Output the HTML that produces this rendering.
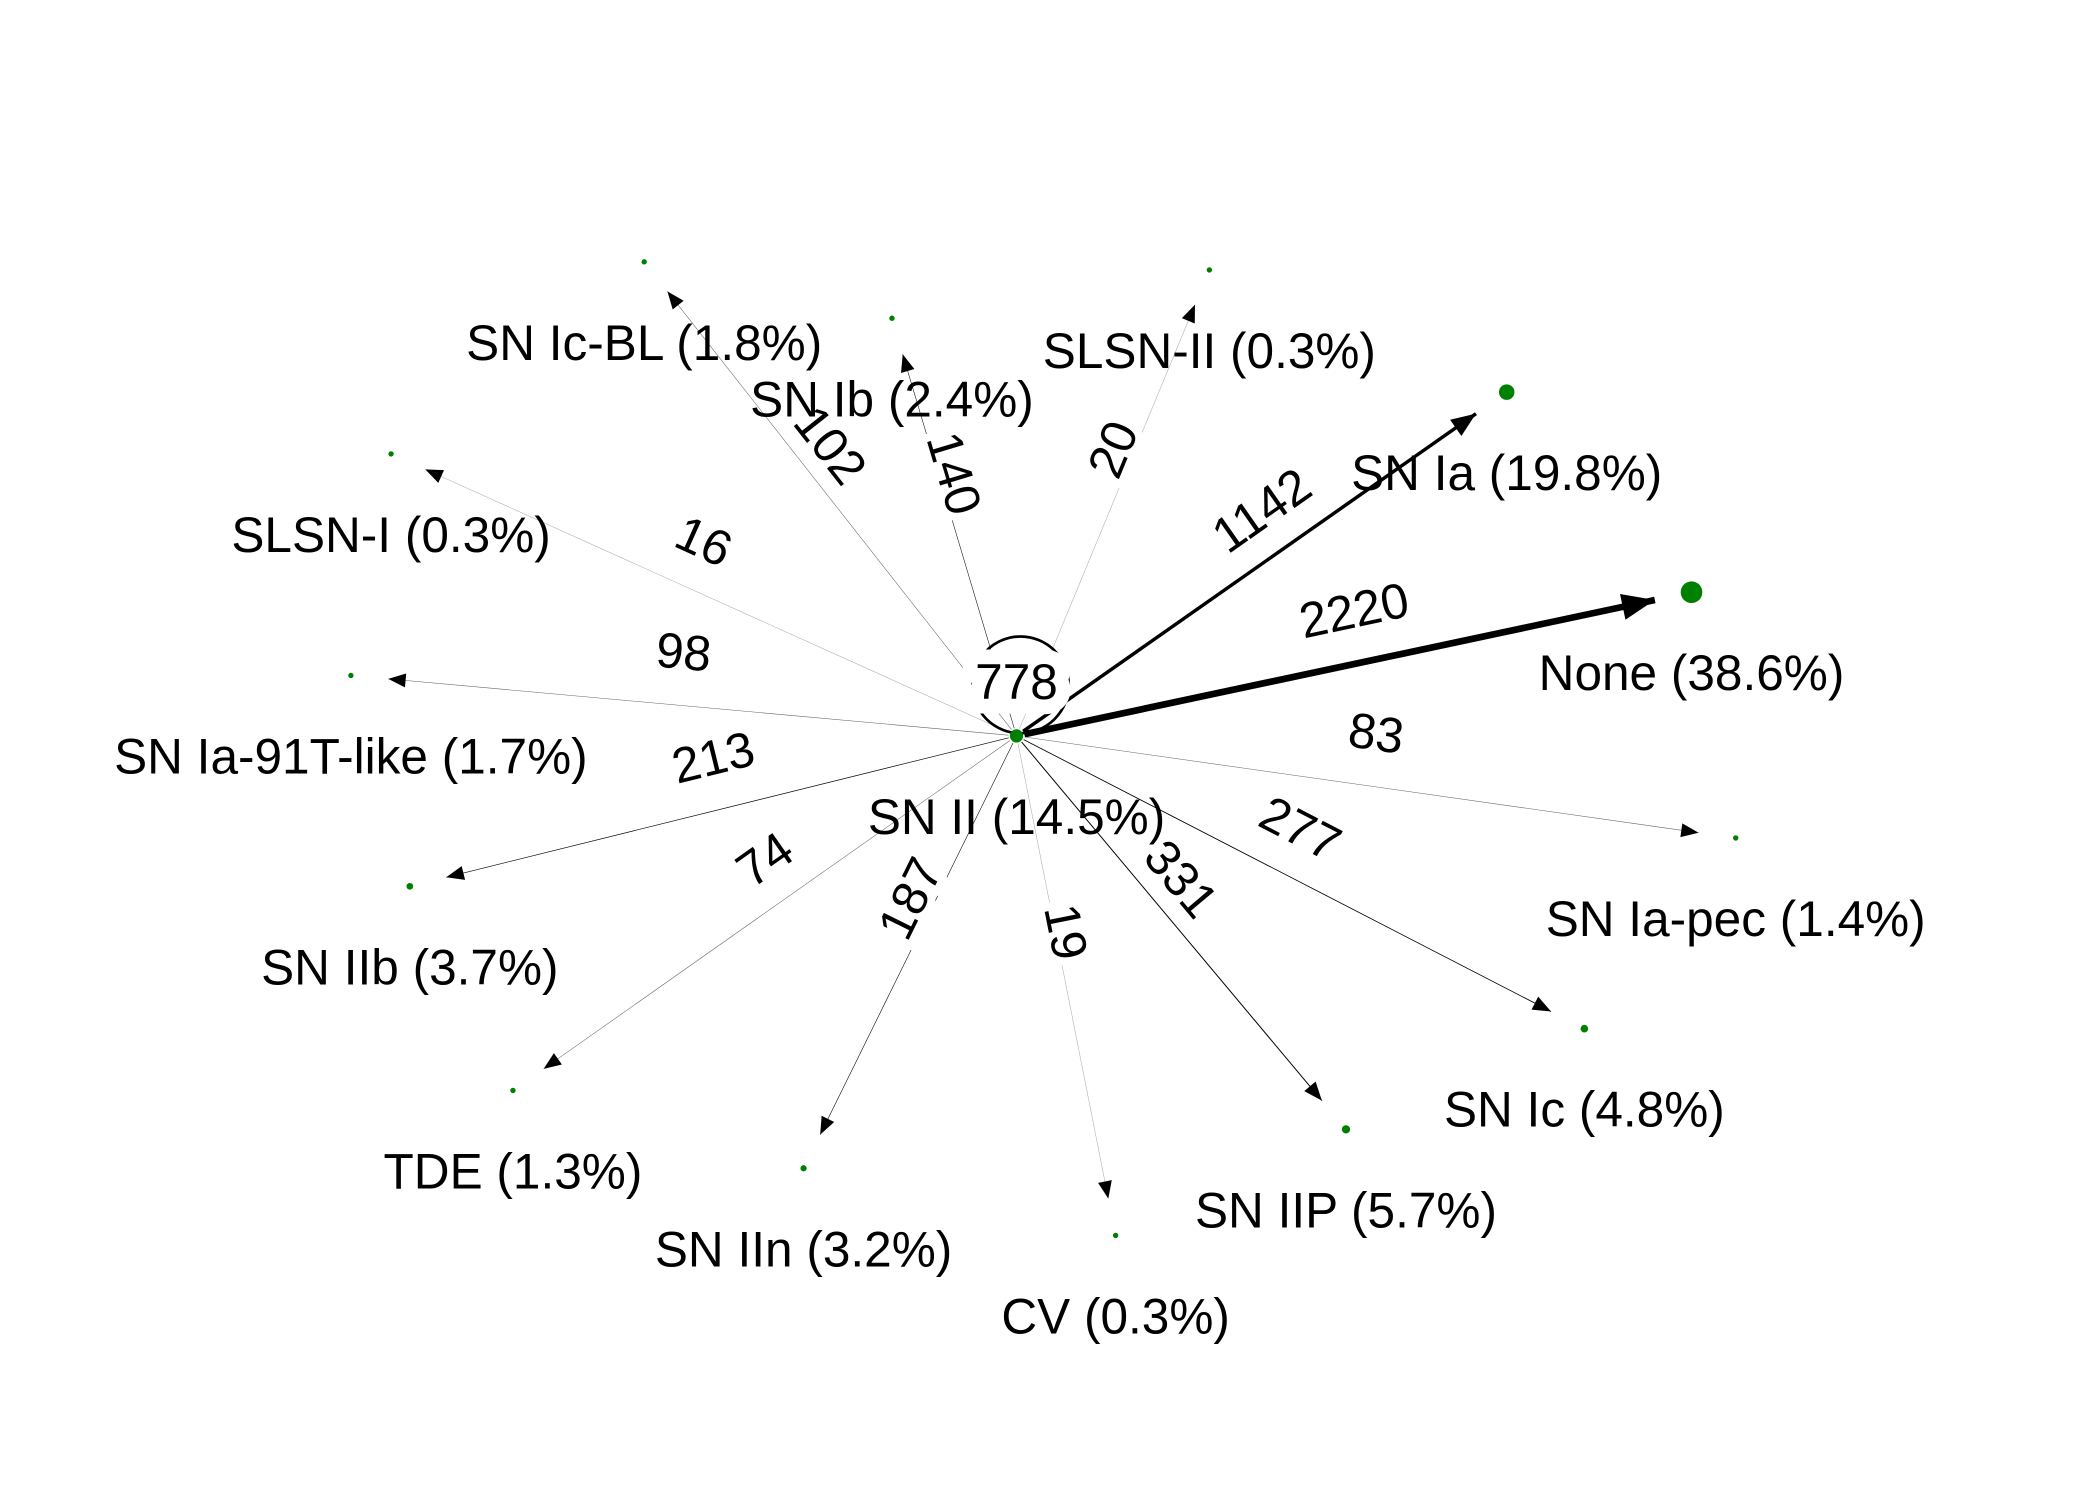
<!DOCTYPE html>
<html><head><meta charset="utf-8"><style>
html,body{margin:0;padding:0;background:#fff;}
svg{display:block;}
text{font-family:"Liberation Sans",sans-serif;}
</style></head><body>
<svg id="chart" width="2100" height="1500" viewBox="0 0 1568 1117" preserveAspectRatio="none" xmlns="http://www.w3.org/2000/svg">
<g id="edges"></g><g id="loop"></g><g id="elabels"></g><g id="nodes"></g>
</svg>
<script>
const sourceName = "SN II";
const sourcePct = 14.5;
const selfLoopCount = 778;
const targets = ["None","SN Ia","SN Ic-BL","SN Ib","SLSN-II","SLSN-I","SN Ia-91T-like","SN IIb","TDE","SN IIn","CV","SN IIP","SN Ic","SN Ia-pec"];
const counts = [2220,1142,102,140,20,16,98,213,74,187,19,331,277,83];
const percents = [38.6,19.8,1.8,2.4,0.3,0.3,1.7,3.7,1.3,3.2,0.3,5.7,4.8,1.4];
// layout (graph-drawing coordinates, not data)
const center = [759,548];
const layoutX = [1263,1125,481,666,903,292,262,306,383,600,833,1005,1183,1296];
const layoutY = [441,292,195,237,201,338,503,660,812,870,920,841,766,624];

const NS="http://www.w3.org/2000/svg";
const gE=document.getElementById('edges'),gN=document.getElementById('nodes'),gL=document.getElementById('elabels'),gLoop=document.getElementById('loop');
const maxC=Math.max(...counts);
const FS=37;
function mk(t,a,p){const e=document.createElementNS(NS,t);for(const k in a)e.setAttribute(k,a[k]);p.appendChild(e);return e;}
function nodeR(p){return Math.max(2,1.3*Math.sqrt(p));}
function addNode(x,y,name,pct){
  const c=mk('circle',{cx:x,cy:y,r:nodeR(pct),fill:'#008000'},gN);
  
  
  const t=mk('text',{x:x,y:y+73,'font-size':FS,'text-anchor':'middle',fill:'#000'},gN);
  t.textContent=name+' ('+pct.toFixed(1)+'%)';
  
  
}
targets.forEach((n,i)=>{
  const x=layoutX[i],y=layoutY[i];
  const dx=x-center[0],dy=y-center[1],L=Math.hypot(dx,dy);
  const ux=dx/L,uy=dy/L;
  const w=Math.max(0.4,counts[i]/maxC*5);
  const sx=center[0]+ux*6,sy=center[1]+uy*6;
  const ex=x-ux*28,ey=y-uy*28;
  const gray=counts[i]<50?'#aaa':(counts[i]<120?'#666':'#000');
  const ln=mk('line',{x1:sx,y1:sy,x2:ex,y2:ey,stroke:gray,'stroke-width':w},gE);
  
  
  const hs=12+w*2.5;
  const bx=ex-ux*hs,by=ey-uy*hs,px=-uy*hs*0.4,py=ux*hs*0.4;
  const ah=mk('polygon',{points:`${ex},${ey} ${bx+px},${by+py} ${bx-px},${by-py}`,fill:'#000'},gE);
  
  
  let ang=Math.atan2(dy,dx)*180/Math.PI;
  if(ang>90)ang-=180; if(ang<-90)ang+=180;
  const lx=(center[0]+x)/2,ly=(center[1]+y)/2-40;
  const t=mk('text',{x:lx,y:ly,'font-size':FS,'text-anchor':'middle','dominant-baseline':'central',fill:'#000',stroke:'#fff','stroke-width':12,'paint-order':'stroke',transform:`rotate(${ang} ${lx} ${ly})`},gL);
  t.textContent=counts[i];
  
  
  addNode(x,y,n,percents[i]);
});
const lp=mk('circle',{cx:center[0]+3,cy:center[1]-38,r:36,fill:'none',stroke:'#000','stroke-width':2},gLoop);


const st=mk('text',{x:center[0],y:center[1]-40,'font-size':FS,'text-anchor':'middle','dominant-baseline':'central',fill:'#000',stroke:'#fff','stroke-width':22,'paint-order':'stroke'},gL);
st.textContent=selfLoopCount;


addNode(center[0],center[1],sourceName,sourcePct);
</script>
</body></html>
